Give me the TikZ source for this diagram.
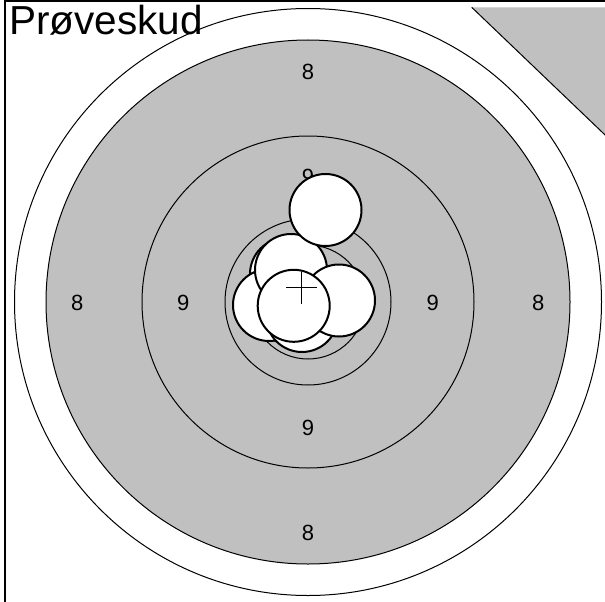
\documentclass[tikz,border=0pt]{standalone}
\usepackage{fontspec}
\setmainfont{Liberation Sans}
\definecolor{tgray}{RGB}{192,192,192}
\begin{document}
\begin{tikzpicture}[x=1pt,y=-1pt,
  ring/.style={draw=black,line width=1pt},
  shot/.style={circle,draw=black,fill=white,line width=2pt,minimum size=72pt,inner sep=0pt},
  lbl/.style={font=\fontsize{22}{26}\selectfont,inner sep=0pt}]
\useasboundingbox (0,0) rectangle (605,602);
\clip (0,0) rectangle (605,602);
\fill[white] (0,0) rectangle (605,602);
% top-right corner triangle
\fill[tgray] (471.7,7.3) -- (640,7.3) -- (640,168.4) -- cycle;
\draw[line width=1pt] (471.7,7.3) -- (640,168.4);
% frame
\draw[line width=2pt] (5,610) -- (5,1) -- (610,1);
% rings
\coordinate (c) at (308,302);
\draw[ring,fill=white] (c) circle[radius=293.5];
\draw[ring,fill=tgray] (c) circle[radius=262];
\draw[ring] (c) circle[radius=166];
\draw[ring] (c) circle[radius=83];
\draw[ring] (c) circle[radius=57];
% labels
\node[lbl] (l8t) at (308,72) {8};
\node[lbl] (l8b) at (308,533) {8};
\node[lbl] (l8l) at (77.3,302.5) {8};
\node[lbl] (l8r) at (538.3,302.5) {8};
\node[lbl] (l9t) at (308,177) {9};
\node[lbl] (l9b) at (308,427.7) {9};
\node[lbl] (l9l) at (183.3,302.7) {9};
\node[lbl] (l9r) at (432.7,302.7) {9};
% shots
\node[shot] (s5) at (286,274) {};
\node[shot] (s7) at (290,308) {};
\node[shot] (s6) at (269,305) {};
\node[shot] (s8) at (302,316) {};
\node[shot] (s4) at (291,270) {};
\node[shot] (s1) at (325.5,210) {};
\node[shot] (s3) at (339,300.5) {};
\node[shot] (s2) at (293.7,305.8) {};
% mean point cross
\coordinate (m) at (301.7,287.7);
\draw[line width=1.3pt] ([xshift=-15.7pt]m) -- ([xshift=15.7pt]m);
\draw[line width=1.3pt] ([yshift=15.8pt]m) -- ([yshift=-15.8pt]m);
% title
\node[anchor=base west,inner sep=0pt] (title) at (9,35) {\fontsize{40.5}{44}\selectfont Prøveskud};
\end{tikzpicture}
\end{document}
